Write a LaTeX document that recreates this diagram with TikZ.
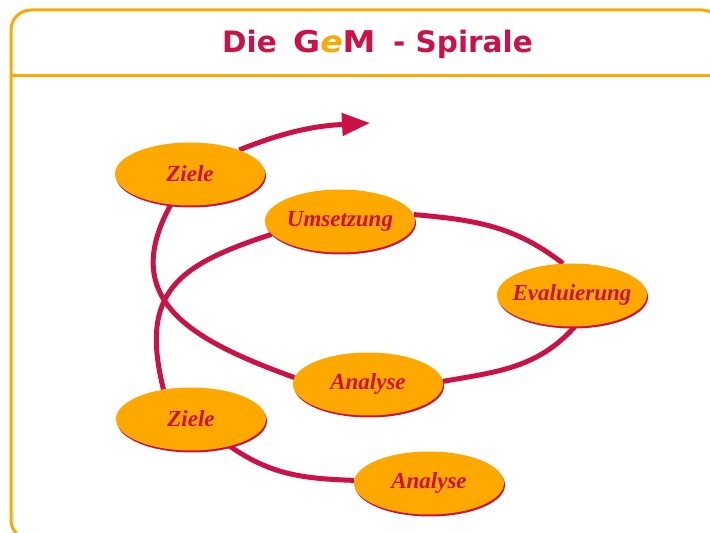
\documentclass[tikz,border=0pt]{standalone}
\usepackage{fontspec}
\setmainfont{Liberation Serif}
\setsansfont{DejaVu Sans}
\usetikzlibrary{shapes,shadows,arrows.meta}
\definecolor{gemred}{RGB}{204,16,72}
\definecolor{gemorange}{RGB}{255,168,0}
\tikzstyle{phase}=[ellipse,fill=gemorange,minimum width=150pt,minimum height=63pt,inner xsep=-10pt,inner ysep=0pt,text=gemred,font=\fontsize{23}{23}\selectfont\bfseries\itshape,drop shadow={shadow xshift=1pt,shadow yshift=-2pt,fill=gemred,opacity=1}]
\tikzstyle{spiraledge} = [draw,gemred,line width=5pt]
\tikzstyle{frameline} = [draw,gemorange,line width=3pt]
\tikzstyle{titletext} = [font=\sffamily\bfseries\fontsize{29.5}{30}\selectfont,text=gemred,anchor=base west,inner sep=0pt]
\pgfdeclarelayer{background}
\pgfsetlayers{background,main}

\begin{document}
\begin{tikzpicture}[x=1pt,y=1pt]

	\def\w{710};
	\def\h{533};
	\def\top{457};

	\useasboundingbox (0,0) rectangle (\w,\h);
	\clip (0,0) rectangle (\w,\h);

%Frame
	\draw[frameline,rounded corners=20pt] (11,-7) rectangle (722,523);
	\draw[frameline] (11,\top) -- (722,\top);

%Title
	\node[titletext] (die) at (222,480) {Die};
	\node[titletext,font=\sffamily\bfseries\fontsize{30}{30}\selectfont] (gem) at (293,480) {\scalebox{1.1}[1]{G\textcolor{gemorange}{\itshape e}M}};
	\node[titletext] (spirale) at (393,480) {- Spirale};

%Phases
    \foreach \pos/\name/\label in {{(190,359)/ZieleT/Ziele}, {(340,312)/Umsetzung/Umsetzung}, {(572,238)/Evaluierung/Evaluierung}, {(368,149)/AnalyseM/Analyse}, {(191,114)/ZieleB/Ziele}, {(429,50)/AnalyseB/Analyse}}
        \node[phase] (\name) at \pos {\label};

	\coordinate (tip) at (370,410);

    % Connect phases along the spiral
	\begin{pgfonlayer}{background}
	\foreach \source/ \dest /\o/\i/\l in {ZieleB/AnalyseB/-35/178/1, ZieleB.133/Umsetzung.191/104/198/1.35, Umsetzung.5/Evaluierung.106/-5/142/1, Evaluierung.-85/AnalyseM.2/228/10/1, AnalyseM.175/ZieleT.238/160/241/1.32}
		\path[spiraledge] (\source) to[out=\o,in=\i,looseness=\l] (\dest);

	\path[spiraledge,-{Triangle[length=28pt,width=22pt]}] (ZieleT.26) to[out=22,in=183] (tip);
	\end{pgfonlayer}

\end{tikzpicture}
\end{document}
